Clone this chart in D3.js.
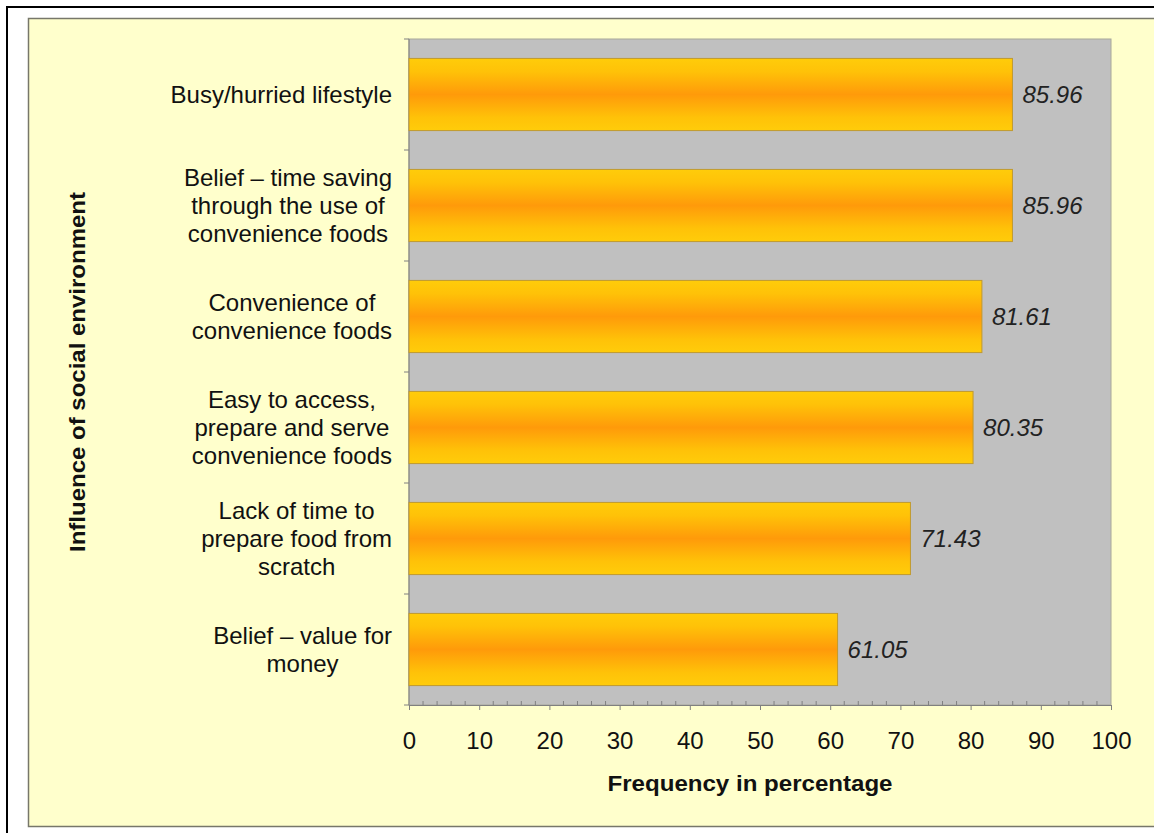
<!DOCTYPE html>
<html><head><meta charset="utf-8">
<script src="https://cdn.jsdelivr.net/npm/d3@7"></script>
<style>body{margin:0;background:#fff;} text{font-family:"Liberation Sans",Arial,sans-serif;}</style>
</head><body>
<svg id="c" width="1154" height="833"></svg>
<script>
const categories = [
  ["Busy/hurried lifestyle"],
  ["Belief – time saving","through the use of","convenience foods"],
  ["Convenience of","convenience foods"],
  ["Easy to access,","prepare and serve","convenience foods"],
  ["Lack of time to","prepare food from","scratch"],
  ["Belief – value for","money"]
];
const values = [85.96, 85.96, 81.61, 80.35, 71.43, 61.05];
const valueLabels = ["85.96","85.96","81.61","80.35","71.43","61.05"];
const xTicks = [0,10,20,30,40,50,60,70,80,90,100];

const svg = d3.select("#c");
// outer black frame
svg.append("rect").attr("x",7).attr("y",7).attr("width",1160).attr("height",840)
  .attr("fill","#fff").attr("stroke","#000").attr("stroke-width",2);
// yellow panel
svg.append("rect").attr("x",28.5).attr("y",18.5).attr("width",1140).attr("height",808)
  .attr("fill","#ffffcc").attr("stroke","#77776a").attr("stroke-width",1.5);

const L=409, R=1111, T=39, B=705;
const x = d3.scaleLinear().domain([0,100]).range([L,R]);
const y = d3.scaleBand().domain(d3.range(categories.length)).range([T,B]).paddingInner(0.35).paddingOuter(0.175);

const defs = svg.append("defs");
const g = defs.append("linearGradient").attr("id","bg").attr("x1",0).attr("y1",0).attr("x2",0).attr("y2",1);
g.append("stop").attr("offset","0%").attr("stop-color","#ffcc0a");
g.append("stop").attr("offset","18%").attr("stop-color","#ffc208");
g.append("stop").attr("offset","50%").attr("stop-color","#ff9a0a");
g.append("stop").attr("offset","82%").attr("stop-color","#ffc208");
g.append("stop").attr("offset","100%").attr("stop-color","#ffcc0a");

svg.append("rect").attr("x",L).attr("y",T).attr("width",R-L).attr("height",B-T)
  .attr("fill","#c0c0c0").attr("stroke","#a8a89a").attr("stroke-width",1);

// minor ticks (inside)
const minor = d3.range(0,101,2).filter(v=>v%10!==0);
svg.append("g").selectAll("line").data(minor).join("line")
  .attr("x1",d=>x(d)).attr("x2",d=>x(d)).attr("y1",B-4).attr("y2",B)
  .attr("stroke","#808080").attr("stroke-width",1);

// x axis
const xAxis = svg.append("g").attr("transform",`translate(0,${B})`)
  .call(d3.axisBottom(x).tickValues(xTicks).tickSize(5).tickPadding(22).tickFormat(d3.format("d")));
xAxis.select(".domain").attr("stroke","#808080");
xAxis.selectAll(".tick line").attr("stroke","#808080");
xAxis.selectAll("text").attr("font-size",24).attr("fill","#111").attr("font-family","Liberation Sans, Arial, sans-serif");

// y axis line + ticks at category boundaries
svg.append("line").attr("x1",L).attr("x2",L).attr("y1",T).attr("y2",B).attr("stroke","#808080");
const bounds = d3.range(categories.length+1).map(i=>T+i*(B-T)/categories.length);
svg.append("g").selectAll("line").data(bounds).join("line")
  .attr("x1",L-5).attr("x2",L).attr("y1",d=>d).attr("y2",d=>d).attr("stroke","#808080");

// bars
svg.append("g").selectAll("rect").data(values).join("rect")
  .attr("x",x(0)).attr("y",(d,i)=>y(i)).attr("width",d=>x(d)-x(0)).attr("height",y.bandwidth())
  .attr("fill","url(#bg)").attr("stroke","#c09a30").attr("stroke-width",1);

// value labels
svg.append("g").selectAll("text").data(values).join("text")
  .attr("x",d=>x(d)+10).attr("y",(d,i)=>y(i)+y.bandwidth()/2+8)
  .attr("font-size",24).attr("font-style","italic").attr("fill","#222")
  .text((d,i)=>valueLabels[i]);

// category labels: lines centered within block, block right-aligned
const lh = 28;
categories.forEach((lines,i)=>{
  const cy = y(i)+y.bandwidth()/2;
  const grp = svg.append("g");
  const ts = lines.map((ln,j)=>grp.append("text").attr("font-size",24).attr("fill","#111")
    .attr("text-anchor","middle")
    .attr("y",cy + (j-(lines.length-1)/2)*lh + 8).text(ln));
  const maxW = d3.max(ts,t=>t.node().getComputedTextLength());
  ts.forEach(t=>t.attr("x",392-maxW/2));
});

// axis titles
svg.append("text").attr("x",750).attr("y",791).attr("text-anchor","middle")
  .attr("font-size",22).attr("font-weight","bold").attr("fill","#111")
  .attr("textLength",285).attr("lengthAdjust","spacingAndGlyphs").text("Frequency in percentage");
svg.append("text").attr("transform",`translate(85,${(T+B)/2}) rotate(-90)`).attr("text-anchor","middle")
  .attr("font-size",22).attr("font-weight","bold").attr("fill","#111")
  .attr("textLength",360).attr("lengthAdjust","spacingAndGlyphs").text("Influence of social environment");
</script>
</body></html>
